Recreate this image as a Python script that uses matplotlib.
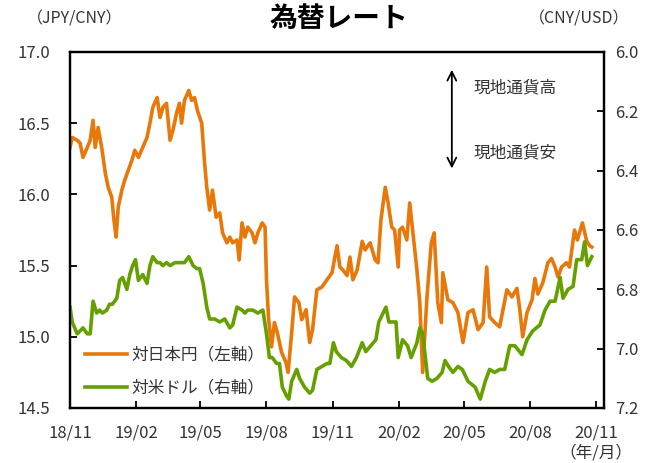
import matplotlib
matplotlib.use("Agg")
import matplotlib.pyplot as plt
import matplotlib.dates as mdates
import pandas as pd

plt.rcParams['font.family'] = ['Noto Sans CJK JP', 'DejaVu Sans']

# 対日本円 (JPY/CNY, left axis)
jpy_dates = ["2018-11-01", "2018-11-04", "2018-11-11", "2018-11-15", "2018-11-19", "2018-11-25", "2018-11-29",
             "2018-12-03", "2018-12-06", "2018-12-10", "2018-12-15", "2018-12-20", "2018-12-24", "2018-12-29",
             "2019-01-01", "2019-01-04", "2019-01-07", "2019-01-12", "2019-01-16", "2019-01-21", "2019-01-26",
             "2019-01-30", "2019-02-04", "2019-02-10", "2019-02-16", "2019-02-20", "2019-02-24", "2019-03-02",
             "2019-03-06", "2019-03-10", "2019-03-15", "2019-03-20", "2019-03-24", "2019-03-29", "2019-04-02",
             "2019-04-05", "2019-04-09", "2019-04-15", "2019-04-19", "2019-04-23", "2019-04-27", "2019-05-03",
             "2019-05-07", "2019-05-10", "2019-05-14", "2019-05-18", "2019-05-23", "2019-05-28", "2019-06-01",
             "2019-06-07", "2019-06-11", "2019-06-15", "2019-06-21", "2019-06-24", "2019-06-28", "2019-07-02",
             "2019-07-06", "2019-07-12", "2019-07-16", "2019-07-20", "2019-07-26", "2019-07-30", "2019-08-01",
             "2019-08-04", "2019-08-08", "2019-08-12", "2019-08-16", "2019-08-22", "2019-08-28", "2019-08-31",
             "2019-09-05", "2019-09-09", "2019-09-15", "2019-09-19", "2019-09-25", "2019-09-30", "2019-10-04",
             "2019-10-10", "2019-10-17", "2019-10-24", "2019-10-31", "2019-11-07", "2019-11-11", "2019-11-15",
             "2019-11-21", "2019-11-25", "2019-11-29", "2019-12-05", "2019-12-12", "2019-12-16", "2019-12-23",
             "2019-12-30", "2020-01-03", "2020-01-07", "2020-01-13", "2020-01-17", "2020-01-22", "2020-01-26",
             "2020-01-31", "2020-02-02", "2020-02-06", "2020-02-12", "2020-02-16", "2020-02-20", "2020-02-26",
             "2020-03-01", "2020-03-05", "2020-03-11", "2020-03-17", "2020-03-21", "2020-03-26", "2020-03-31",
             "2020-04-02", "2020-04-09", "2020-04-16", "2020-04-23", "2020-04-30", "2020-05-07", "2020-05-14",
             "2020-05-21", "2020-05-28", "2020-06-02", "2020-06-06", "2020-06-13", "2020-06-20", "2020-06-30",
             "2020-07-07", "2020-07-14", "2020-07-18", "2020-07-22", "2020-07-28", "2020-08-04", "2020-08-08",
             "2020-08-12", "2020-08-19", "2020-08-26", "2020-08-31", "2020-09-05", "2020-09-09", "2020-09-14",
             "2020-09-21", "2020-09-25", "2020-10-02", "2020-10-06", "2020-10-13", "2020-10-19", "2020-10-23",
             "2020-10-26"]
jpy_vals = [16.33, 16.40, 16.38, 16.36, 16.26, 16.33, 16.38,
            16.52, 16.33, 16.47, 16.33, 16.15, 16.05, 15.98,
            15.82, 15.70, 15.91, 16.03, 16.10, 16.17, 16.24,
            16.31, 16.26, 16.33, 16.40, 16.50, 16.61, 16.68,
            16.54, 16.61, 16.64, 16.38, 16.45, 16.57, 16.64,
            16.50, 16.66, 16.73, 16.66, 16.68, 16.59, 16.50,
            16.22, 16.05, 15.89, 16.03, 15.84, 15.87, 15.73,
            15.66, 15.70, 15.66, 15.68, 15.54, 15.80, 15.70,
            15.77, 15.73, 15.66, 15.73, 15.80, 15.77, 15.40,
            15.12, 14.93, 15.10, 15.03, 14.89, 14.82, 14.75,
            15.03, 15.28, 15.24, 15.12, 15.19, 14.96, 15.05,
            15.33, 15.35, 15.40, 15.45, 15.64, 15.49, 15.47,
            15.43, 15.56, 15.40, 15.47, 15.67, 15.61, 15.66,
            15.54, 15.52, 15.82, 16.05, 15.94, 15.77, 15.75,
            15.49, 15.75, 15.77, 15.68, 15.94, 15.75, 15.47,
            15.24, 14.75, 15.28, 15.66, 15.73, 15.24, 15.10,
            15.45, 15.26, 15.24, 15.17, 14.96, 15.17, 15.19,
            15.05, 15.10, 15.49, 15.14, 15.10, 15.07, 15.33,
            15.28, 15.34, 15.19, 15.00, 15.17, 15.26, 15.41,
            15.30, 15.38, 15.52, 15.55, 15.49, 15.42, 15.49,
            15.52, 15.49, 15.75, 15.68, 15.80, 15.67, 15.64,
            15.63]

# 対米ドル (CNY/USD, right axis)
usd_dates = ["2018-11-01", "2018-11-04", "2018-11-11", "2018-11-15", "2018-11-19", "2018-11-25", "2018-11-29",
             "2018-12-03", "2018-12-08", "2018-12-12", "2018-12-16", "2018-12-22", "2018-12-26", "2018-12-30",
             "2019-01-05", "2019-01-09", "2019-01-13", "2019-01-19", "2019-01-23", "2019-01-27", "2019-01-31",
             "2019-02-04", "2019-02-10", "2019-02-16", "2019-02-20", "2019-02-24", "2019-03-02", "2019-03-06",
             "2019-03-10", "2019-03-15", "2019-03-20", "2019-03-27", "2019-04-02", "2019-04-09", "2019-04-15",
             "2019-04-21", "2019-04-26", "2019-04-30", "2019-05-05", "2019-05-10", "2019-05-14", "2019-05-21",
             "2019-05-28", "2019-06-04", "2019-06-11", "2019-06-15", "2019-06-21", "2019-06-28", "2019-07-02",
             "2019-07-06", "2019-07-13", "2019-07-20", "2019-07-27", "2019-08-01", "2019-08-05", "2019-08-09",
             "2019-08-15", "2019-08-19", "2019-08-23", "2019-08-29", "2019-09-01", "2019-09-05", "2019-09-12",
             "2019-09-16", "2019-09-23", "2019-09-30", "2019-10-04", "2019-10-10", "2019-10-17", "2019-10-24",
             "2019-10-28", "2019-11-02", "2019-11-06", "2019-11-13", "2019-11-20", "2019-11-27", "2019-12-04",
             "2019-12-12", "2019-12-17", "2019-12-24", "2019-12-31", "2020-01-04", "2020-01-08", "2020-01-14",
             "2020-01-18", "2020-01-22", "2020-01-28", "2020-01-31", "2020-02-06", "2020-02-13", "2020-02-18",
             "2020-02-26", "2020-03-01", "2020-03-05", "2020-03-12", "2020-03-18", "2020-03-25", "2020-04-01",
             "2020-04-05", "2020-04-10", "2020-04-16", "2020-04-23", "2020-04-29", "2020-05-07", "2020-05-17",
             "2020-05-24", "2020-05-31", "2020-06-06", "2020-06-13", "2020-06-20", "2020-06-27", "2020-07-04",
             "2020-07-11", "2020-07-21", "2020-07-28", "2020-08-05", "2020-08-15", "2020-08-22", "2020-08-29",
             "2020-09-05", "2020-09-12", "2020-09-16", "2020-09-23", "2020-09-30", "2020-10-05", "2020-10-12",
             "2020-10-16", "2020-10-20", "2020-10-26"]
usd_vals = [6.86, 6.91, 6.95, 6.94, 6.93, 6.95, 6.95,
            6.84, 6.88, 6.87, 6.88, 6.87, 6.85, 6.85,
            6.83, 6.77, 6.76, 6.80, 6.75, 6.72, 6.70,
            6.77, 6.75, 6.78, 6.72, 6.69, 6.71, 6.71,
            6.72, 6.71, 6.72, 6.71, 6.71, 6.71, 6.69,
            6.72, 6.73, 6.73, 6.78, 6.86, 6.90, 6.90,
            6.91, 6.90, 6.93, 6.92, 6.86, 6.87, 6.88,
            6.87, 6.87, 6.88, 6.87, 6.95, 7.03, 7.03,
            7.05, 7.05, 7.13, 7.16, 7.17, 7.11, 7.07,
            7.10, 7.13, 7.15, 7.14, 7.07, 7.06, 7.05,
            7.05, 6.98, 7.01, 7.03, 7.04, 7.06, 7.03,
            6.98, 7.01, 6.99, 6.97, 6.91, 6.89, 6.86,
            6.91, 6.91, 6.91, 7.03, 6.97, 6.99, 7.03,
            6.98, 6.93, 6.95, 7.10, 7.11, 7.10, 7.08,
            7.04, 7.06, 7.08, 7.06, 7.07, 7.11, 7.13,
            7.17, 7.11, 7.07, 7.08, 7.07, 7.07, 6.99,
            6.99, 7.02, 6.97, 6.94, 6.92, 6.87, 6.84,
            6.84, 6.76, 6.83, 6.80, 6.79, 6.70, 6.70,
            6.64, 6.72, 6.69]

jpy_label = "対日本円（左軸）"
usd_label = "対米ドル（右軸）"
orange = "#E8780A"
green = "#66A000"
txt = "#333333"

fig = plt.figure(figsize=(6.49, 4.63), dpi=100)
ax = fig.add_axes([0.1079, 0.1188, 0.8228, 0.7689])
ax2 = ax.twinx()

l1, = ax.plot(pd.to_datetime(jpy_dates), jpy_vals, color=orange, lw=2.6, label=jpy_label)
l2, = ax2.plot(pd.to_datetime(usd_dates), usd_vals, color=green, lw=2.6, label=usd_label)

ax.set_xlim(pd.Timestamp("2018-11-01"), pd.Timestamp("2020-11-12"))
ax.set_ylim(14.5, 17.0)
ax.set_yticks([14.5, 15.0, 15.5, 16.0, 16.5, 17.0])
ax.yaxis.set_major_formatter(matplotlib.ticker.FormatStrFormatter("%.1f"))
ax2.set_ylim(7.2, 6.0)
ax2.set_yticks([6.0, 6.2, 6.4, 6.6, 6.8, 7.0, 7.2])
ax2.yaxis.set_major_formatter(matplotlib.ticker.FormatStrFormatter("%.1f"))

ax.xaxis.set_major_locator(mdates.MonthLocator(bymonth=[2, 5, 8, 11]))
ax.xaxis.set_major_formatter(mdates.DateFormatter("%y/%m"))

for a in (ax, ax2):
    for s in a.spines.values():
        s.set_linewidth(1.6)
        s.set_color("black")
ax.tick_params(axis="y", direction="in", length=5, width=1.3, pad=14, labelsize=12, labelcolor=txt)
ax2.tick_params(axis="y", direction="in", length=5, width=1.3, pad=8, labelsize=12, labelcolor=txt)
ax.tick_params(axis="x", direction="in", length=5, width=1.3, pad=12, labelsize=12, labelcolor=txt)

fig.text(0.523, 0.958, "為替レート", ha="center", va="center", fontsize=20, fontweight="bold", color="black")
fig.text(0.115, 0.958, "（JPY/CNY）", ha="center", va="center", fontsize=11.5, color=txt)
fig.text(0.893, 0.958, "（CNY/USD）", ha="center", va="center", fontsize=11.5, color=txt)
fig.text(0.918, 0.022, "（年/月）", ha="center", va="center", fontsize=12, color=txt)

# arrow with labels
ax.annotate("", xy=(0.715, 0.958), xytext=(0.715, 0.665), xycoords="axes fraction",
            arrowprops=dict(arrowstyle="<->", color="black", lw=1.3, mutation_scale=16))
ax.text(0.755, 0.9, "現地通貨高", transform=ax.transAxes, ha="left", va="center", fontsize=12, color=txt)
ax.text(0.755, 0.716, "現地通貨安", transform=ax.transAxes, ha="left", va="center", fontsize=12, color=txt)

ax2.legend(handles=[l1, l2], loc="lower left", bbox_to_anchor=(0.0, -0.01), frameon=False,
           fontsize=12, handlelength=2.5, handletextpad=0.3, labelspacing=0.95, labelcolor=txt)

fig.savefig("out.png", dpi=100)
